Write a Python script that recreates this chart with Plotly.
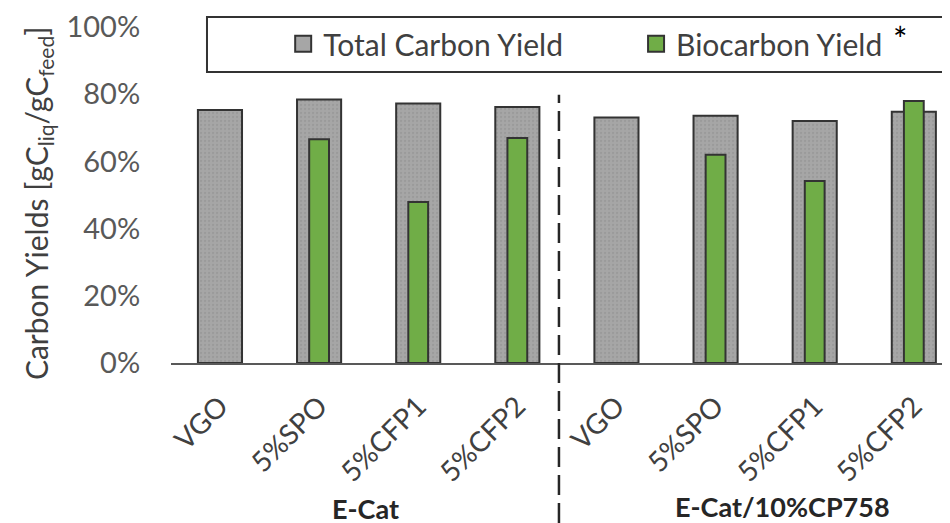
import plotly.graph_objects as go

categories = ["VGO", "5%SPO", "5%CFP1", "5%CFP2", "VGO", "5%SPO", "5%CFP1", "5%CFP2"]
total_carbon = [0.753, 0.784, 0.772, 0.762, 0.731, 0.736, 0.720, 0.748]
biocarbon = [None, 0.666, 0.479, 0.670, None, 0.620, 0.542, 0.780]
groups = ["E-Cat", "E-Cat/10%CP758"]
y_ticks = [0, 0.2, 0.4, 0.6, 0.8, 1.0]
y_ticklabels = ["0%", "20%", "40%", "60%", "80%", "100%"]

x = list(range(len(categories)))
FONT = "Lato"
EDGE = "#333333"
GREY = "#a6a6a6"
GREEN = "#70ad47"

fig = go.Figure()
fig.add_trace(go.Bar(
    x=x, y=total_carbon, width=0.445, showlegend=False,
    marker=dict(color=GREY, line=dict(color=EDGE, width=2),
                pattern=dict(shape=".", fgcolor="#8e8e8e", size=4, solidity=0.25, fillmode="overlay")),
))
fig.add_trace(go.Bar(
    x=x, y=biocarbon, width=0.2, showlegend=False,
    marker=dict(color=GREEN, line=dict(color=EDGE, width=2)),
))
# legend entries
fig.add_trace(go.Scatter(x=[None], y=[None], mode="markers", name="Total Carbon Yield", legend="legend",
                         marker=dict(symbol="square", size=19, color=GREY, line=dict(color=EDGE, width=2))))
fig.add_trace(go.Scatter(x=[None], y=[None], mode="markers", name="Biocarbon Yield", legend="legend2",
                         marker=dict(symbol="square", size=19, color=GREEN, line=dict(color=EDGE, width=2))))

leg_common = dict(orientation="h", yanchor="middle", xanchor="left", bgcolor="rgba(0,0,0,0)",
                  borderwidth=0, font=dict(family=FONT, size=30, color="#404040"))

fig.update_layout(
    width=950, height=523,
    margin=dict(l=163, r=8, t=19, b=168, autoexpand=False),
    plot_bgcolor="white", paper_bgcolor="white",
    barmode="overlay",
    font=dict(family=FONT, size=28, color="#404040"),
    showlegend=True,
    legend=dict(x=0.144, y=0.95, **leg_common),
    legend2=dict(x=0.597, y=0.95, **leg_common),
    xaxis=dict(range=[-0.494, 7.365], tickvals=x, ticktext=categories, tickangle=-45,
               showline=True, linecolor="#595959", linewidth=1.5, showgrid=False, zeroline=False,
               ticks="outside", ticklen=14, tickcolor="rgba(0,0,0,0)", automargin=False,
               tickfont=dict(family=FONT, size=28, color="#404040")),
    yaxis=dict(range=[0, 1], tickvals=y_ticks, ticktext=y_ticklabels, showgrid=False,
               zeroline=False, showline=False, ticks="outside", ticklen=24, automargin=False,
               tickcolor="rgba(0,0,0,0)",
               tickfont=dict(family=FONT, size=29, color="#595959")),
)

shapes = [
    dict(type="rect", xref="paper", yref="paper", x0=0.0462, x1=1.05, y0=0.866, y1=1.0298,
         line=dict(color="#333333", width=2), fillcolor="rgba(0,0,0,0)", layer="below"),
    dict(type="line", xref="x", yref="paper", x0=3.42, x1=3.42, y0=-0.476, y1=0.798,
         line=dict(color="#262626", width=2.5, dash="20px,8px")),
]
fig.update_layout(shapes=shapes)

annotations = [
    dict(text="Carbon Yields [gC<sub>liq</sub>/gC<sub>feed</sub>]", textangle=-90,
         xref="paper", yref="paper", x=-0.1707, y=0.476, showarrow=False,
         xanchor="center", yanchor="middle", font=dict(family=FONT, size=30, color="#404040")),
    dict(text="*", xref="paper", yref="paper", x=0.936, y=0.967, showarrow=False,
         xanchor="center", yanchor="middle", font=dict(family=FONT, size=34, color="#000000")),
    dict(text="<b>%s</b>" % groups[0], xref="paper", yref="paper", x=0.2503, y=-0.432,
         showarrow=False, xanchor="center", yanchor="middle",
         font=dict(family=FONT, size=27, color="#262626")),
    dict(text="<b>%s</b>" % groups[1], xref="paper", yref="paper", x=0.7856, y=-0.428,
         showarrow=False, xanchor="center", yanchor="middle",
         font=dict(family=FONT, size=27, color="#262626")),
]
fig.update_layout(annotations=annotations)

fig.write_html("out.html")
